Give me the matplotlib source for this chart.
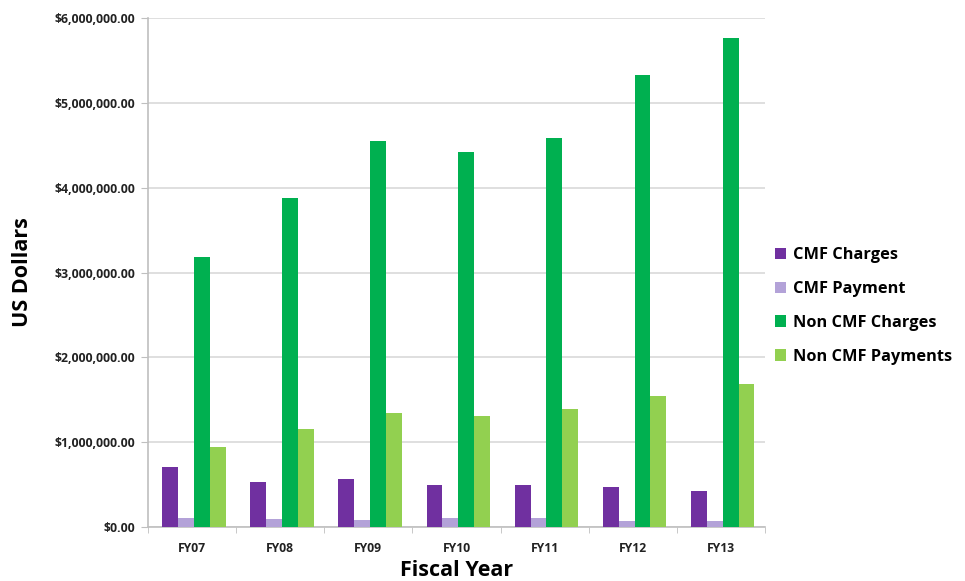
import matplotlib
matplotlib.use("Agg")
import matplotlib.pyplot as plt
import numpy as np
from matplotlib.patches import Patch
from matplotlib.ticker import FuncFormatter, MultipleLocator, FixedLocator

years = ["FY07", "FY08", "FY09", "FY10", "FY11", "FY12", "FY13"]
cmf_charges = [710000, 530000, 560000, 500000, 490000, 475000, 420000]
cmf_payment = [110000, 90000, 80000, 105000, 110000, 70000, 75000]
non_cmf_charges = [3180000, 3880000, 4550000, 4420000, 4590000, 5330000, 5760000]
non_cmf_payments = [940000, 1150000, 1340000, 1310000, 1390000, 1540000, 1690000]

series = [
    ("CMF Charges", cmf_charges, "#7030A0"),
    ("CMF Payment", cmf_payment, "#B3A2D8"),
    ("Non CMF Charges", non_cmf_charges, "#00B050"),
    ("Non CMF Payments", non_cmf_payments, "#92D050"),
]

plt.rcParams["font.family"] = ["Open Sans", "DejaVu Sans"]

fig = plt.figure(figsize=(9.65, 5.81), dpi=100)
ax = fig.add_axes([148 / 965, 54 / 581, 617 / 965, 509 / 581])

x = np.arange(len(years))
width = 0.18
offsets = (np.arange(len(series)) - 1.5) * width + 0.02
for (name, vals, color), off in zip(series, offsets):
    ax.bar(x + off, vals, width=width, color=color, label=name, zorder=3)

ax.set_xlim(-0.5, len(years) - 0.5)
ax.set_ylim(0, 6000000)
ax.yaxis.set_major_locator(MultipleLocator(1000000))
ax.yaxis.set_major_formatter(FuncFormatter(lambda v, p: f"${v:,.2f}"))
ax.grid(axis="y", color="#d9d9d9", linewidth=1.2, zorder=0)

ax.set_xticks(x)
ax.set_xticklabels(years)
ax.xaxis.set_minor_locator(FixedLocator(np.arange(len(years) + 1) - 0.5))
ax.tick_params(axis="x", which="major", length=0, pad=11)
ax.tick_params(axis="x", which="minor", length=4, color="#bfbfbf")
ax.tick_params(axis="y", length=5, color="#bfbfbf", pad=4)
for lbl in ax.get_xticklabels():
    lbl.set_fontsize(8.7)
    lbl.set_fontweight("bold")
    lbl.set_color("#222222")
for lbl in ax.get_yticklabels():
    lbl.set_fontsize(8.8)
    lbl.set_fontweight("bold")
    lbl.set_color("#222222")

for side in ["top", "right"]:
    ax.spines[side].set_visible(False)
ax.spines["left"].set_color("#bfbfbf")
ax.spines["bottom"].set_color("#bfbfbf")
ax.spines["left"].set_linewidth(1.2)
ax.spines["bottom"].set_linewidth(1.2)

ax.set_ylabel("US Dollars", fontsize=15.5, fontweight="bold", labelpad=16)
ax.set_xlabel("Fiscal Year", fontsize=15.5, fontweight="bold", labelpad=3.5)

handles = [Patch(facecolor=c, label=n) for n, _, c in series]
leg = fig.legend(handles=handles, loc="center left", bbox_to_anchor=(760 / 965, 1 - 306 / 581),
                 frameon=False, prop={"weight": "bold", "size": 11.8},
                 handlelength=0.7, handleheight=0.7, handletextpad=0.4, labelspacing=1.08)

fig.savefig("out.png", dpi=100)
